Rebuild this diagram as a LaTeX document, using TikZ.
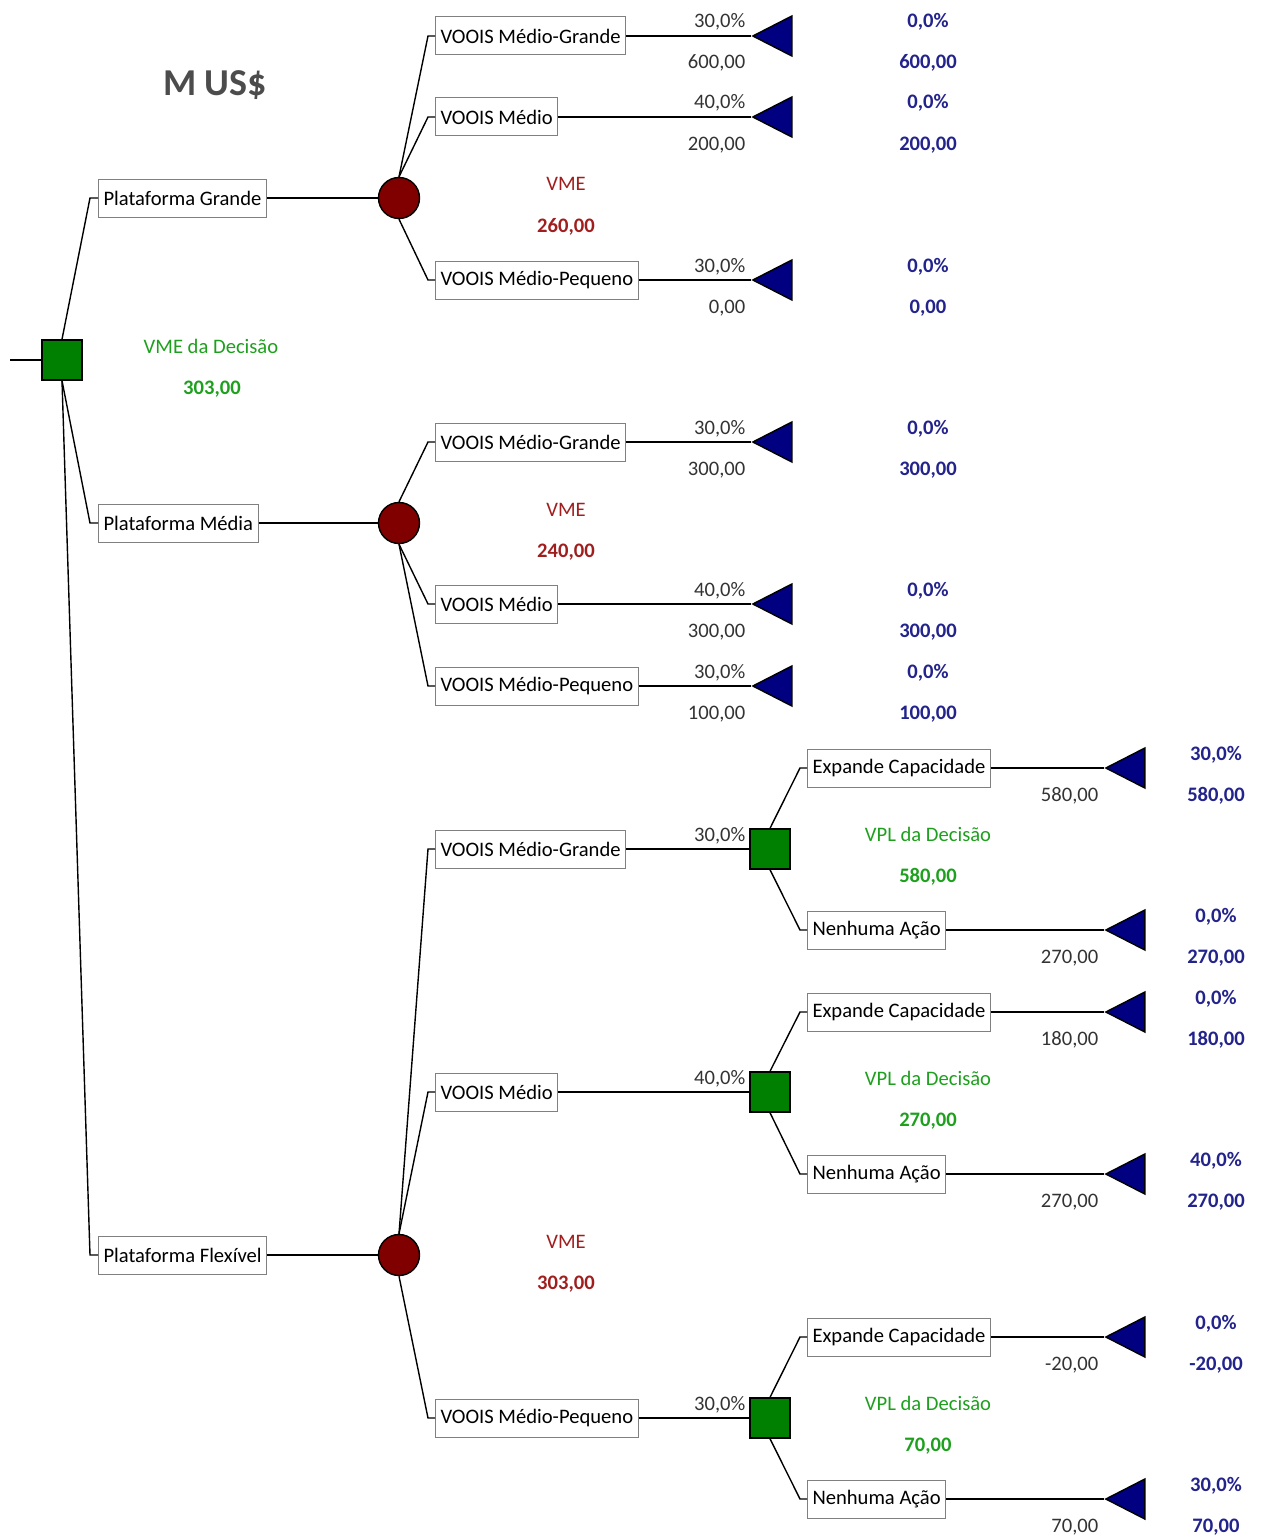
\documentclass[tikz,border=0pt]{standalone}
\usepackage{fontspec}
\setmainfont{Carlito}
\usepackage{tikz}
\usetikzlibrary{shapes.geometric}
\definecolor{decgreen}{RGB}{0,128,0}
\definecolor{chred}{RGB}{128,0,0}
\definecolor{endblue}{RGB}{0,0,128}
\definecolor{vmered}{RGB}{160,30,30}
\definecolor{vmegreen}{RGB}{30,160,30}
\definecolor{valblue}{RGB}{35,35,140}

\begin{document}
\begin{tikzpicture}[x=0.5pt,y=-0.5pt,line width=0.7pt,
  font=\fontsize{10.3}{12}\selectfont,
  decision/.style={draw=black,fill=decgreen,minimum size=20pt,inner sep=0pt},
  chance/.style={circle,draw=black,fill=chred,minimum size=20.5pt,inner sep=0pt},
  endtri/.style={isosceles triangle,shape border rotate=180,isosceles triangle stretches,
    minimum width=20pt,minimum height=19.5pt,inner sep=0pt,draw=black,fill=endblue,anchor=apex},
  branch/.style={draw=gray,line width=0.5pt,fill=white,minimum height=19pt,inner xsep=2.5pt,inner ysep=0pt,anchor=west},
  num/.style={anchor=base east,inner xsep=0pt,text=black!80},
  res/.style={anchor=base,text=valblue,font=\fontsize{10.3}{12}\selectfont\bfseries},
  vme/.style={anchor=base,text=vmered},
  vpl/.style={anchor=base,text=vmegreen}]
  \useasboundingbox (0,0) rectangle (1261,1536);

  % root decision
  \coordinate (in0) at (10,360);
  \node[decision] (dec0) at (62,360) {};
  \draw (in0) -- (dec0.west);
  \node[vpl] (vme0) at (211,353) {VME da Decisão};
  \node[vpl,font=\fontsize{10.3}{12}\selectfont\bfseries] (vme0v) at (212,394) {303,00};
  \node[text=black!70,font=\fontsize{19}{22}\selectfont\bfseries] (unit) at (215,85) {M US\$};

  \node[branch] (pg) at (98,198) {Plataforma Grande};
  \node[branch] (pm) at (98,523) {Plataforma Média};
  \node[branch] (pf) at (98,1255) {Plataforma Flexível};
  \draw (dec0.north) -- ([xshift=-4pt]pg.west) -- (pg.west);
  \draw (dec0.south) -- ([xshift=-4pt]pm.west) -- (pm.west);
  \draw (dec0.south) -- ([xshift=-4pt]pf.west) -- (pf.west);

  % chance nodes
  \node[chance] (ch1) at (399,198) {};
  \node[chance] (ch2) at (399,523) {};
  \node[chance] (ch3) at (399,1255) {};
  \draw (pg.east) -- (ch1.west);
  \draw (pm.east) -- (ch2.west);
  \draw (pf.east) -- (ch3.west);
  \node[vme] (vme1) at (566,191) {VME};
  \node[vme,font=\fontsize{10.3}{12}\selectfont\bfseries] (vme1v) at (566,232) {260,00};
  \node[vme] (vme2) at (566,516) {VME};
  \node[vme,font=\fontsize{10.3}{12}\selectfont\bfseries] (vme2v) at (566,557) {240,00};
  \node[vme] (vme3) at (566,1248) {VME};
  \node[vme,font=\fontsize{10.3}{12}\selectfont\bfseries] (vme3v) at (566,1289) {303,00};

  % Plataforma Grande
  \node[branch] (g1) at (435,36) {VOOIS Médio-Grande};
  \node[branch] (m1) at (435,117) {VOOIS Médio};
  \node[branch] (p1) at (435,280) {VOOIS Médio-Pequeno};
  \draw (ch1.north) -- ([xshift=-3.5pt]g1.west) -- (g1.west);
  \draw (ch1.north) -- ([xshift=-3.5pt]m1.west) -- (m1.west);
  \draw (ch1.south) -- ([xshift=-3.5pt]p1.west) -- (p1.west);
  \node[endtri] (tg1) at (751,36) {};
  \node[endtri] (tm1) at (751,117) {};
  \node[endtri] (tp1) at (751,280) {};
  \draw (g1.east) -- (tg1.apex);
  \draw (m1.east) -- (tm1.apex);
  \draw (p1.east) -- (tp1.apex);
  \node[num] (g1p) at (746,28) {30,0\%};  \node[num] (g1v) at (746,69) {600,00};
  \node[res] (g1r) at (928,28) {0,0\%};   \node[res] (g1s) at (928,69) {600,00};
  \node[num] (m1p) at (746,109) {40,0\%}; \node[num] (m1v) at (746,150) {200,00};
  \node[res] (m1r) at (928,109) {0,0\%};  \node[res] (m1s) at (928,150) {200,00};
  \node[num] (p1p) at (746,272) {30,0\%}; \node[num] (p1v) at (746,313) {0,00};
  \node[res] (p1r) at (928,272) {0,0\%};  \node[res] (p1s) at (928,313) {0,00};

  % Plataforma Media
  \node[branch] (g2) at (435,442) {VOOIS Médio-Grande};
  \node[branch] (m2) at (435,604) {VOOIS Médio};
  \node[branch] (p2) at (435,686) {VOOIS Médio-Pequeno};
  \draw (ch2.north) -- ([xshift=-3.5pt]g2.west) -- (g2.west);
  \draw (ch2.south) -- ([xshift=-3.5pt]m2.west) -- (m2.west);
  \draw (ch2.south) -- ([xshift=-3.5pt]p2.west) -- (p2.west);
  \node[endtri] (tg2) at (751,442) {};
  \node[endtri] (tm2) at (751,604) {};
  \node[endtri] (tp2) at (751,686) {};
  \draw (g2.east) -- (tg2.apex);
  \draw (m2.east) -- (tm2.apex);
  \draw (p2.east) -- (tp2.apex);
  \node[num] (g2p) at (746,434) {30,0\%}; \node[num] (g2v) at (746,475) {300,00};
  \node[res] (g2r) at (928,434) {0,0\%};  \node[res] (g2s) at (928,475) {300,00};
  \node[num] (m2p) at (746,596) {40,0\%}; \node[num] (m2v) at (746,637) {300,00};
  \node[res] (m2r) at (928,596) {0,0\%};  \node[res] (m2s) at (928,637) {300,00};
  \node[num] (p2p) at (746,678) {30,0\%}; \node[num] (p2v) at (746,719) {100,00};
  \node[res] (p2r) at (928,678) {0,0\%};  \node[res] (p2s) at (928,719) {100,00};

  % Plataforma Flexivel
  \node[branch] (g3) at (435,849) {VOOIS Médio-Grande};
  \node[branch] (m3) at (435,1092) {VOOIS Médio};
  \node[branch] (p3) at (435,1418) {VOOIS Médio-Pequeno};
  \draw (ch3.north) -- ([xshift=-3.5pt]g3.west) -- (g3.west);
  \draw (ch3.north) -- ([xshift=-3.5pt]m3.west) -- (m3.west);
  \draw (ch3.south) -- ([xshift=-3.5pt]p3.west) -- (p3.west);
  \node[decision] (dec1) at (770,849) {};
  \node[decision] (dec2) at (770,1092) {};
  \node[decision] (dec3) at (770,1418) {};
  \draw (g3.east) -- (dec1.west);
  \draw (m3.east) -- (dec2.west);
  \draw (p3.east) -- (dec3.west);
  \node[num] (g3p) at (746,841) {30,0\%};
  \node[num] (m3p) at (746,1084) {40,0\%};
  \node[num] (p3p) at (746,1410) {30,0\%};
  \node[vpl] (vpl1) at (928,841) {VPL da Decisão};
  \node[vpl,font=\fontsize{10.3}{12}\selectfont\bfseries] (vpl1v) at (928,882) {580,00};
  \node[vpl] (vpl2) at (928,1085) {VPL da Decisão};
  \node[vpl,font=\fontsize{10.3}{12}\selectfont\bfseries] (vpl2v) at (928,1126) {270,00};
  \node[vpl] (vpl3) at (928,1410) {VPL da Decisão};
  \node[vpl,font=\fontsize{10.3}{12}\selectfont\bfseries] (vpl3v) at (928,1451) {70,00};

  % second decisions
  \node[branch] (e1) at (807,768) {Expande Capacidade};
  \node[branch] (n1) at (807,930) {Nenhuma Ação};
  \node[branch] (e2) at (807,1012) {Expande Capacidade};
  \node[branch] (n2) at (807,1174) {Nenhuma Ação};
  \node[branch] (e3) at (807,1337) {Expande Capacidade};
  \node[branch] (n3) at (807,1499) {Nenhuma Ação};
  \draw (dec1.north) -- ([xshift=-3.5pt]e1.west) -- (e1.west);
  \draw (dec1.south) -- ([xshift=-3.5pt]n1.west) -- (n1.west);
  \draw (dec2.north) -- ([xshift=-3.5pt]e2.west) -- (e2.west);
  \draw (dec2.south) -- ([xshift=-3.5pt]n2.west) -- (n2.west);
  \draw (dec3.north) -- ([xshift=-3.5pt]e3.west) -- (e3.west);
  \draw (dec3.south) -- ([xshift=-3.5pt]n3.west) -- (n3.west);
  \node[endtri] (te1) at (1104,768) {};
  \node[endtri] (tn1) at (1104,930) {};
  \node[endtri] (te2) at (1104,1012) {};
  \node[endtri] (tn2) at (1104,1174) {};
  \node[endtri] (te3) at (1104,1337) {};
  \node[endtri] (tn3) at (1104,1499) {};
  \draw (e1.east) -- (te1.apex);
  \draw (n1.east) -- (tn1.apex);
  \draw (e2.east) -- (te2.apex);
  \draw (n2.east) -- (tn2.apex);
  \draw (e3.east) -- (te3.apex);
  \draw (n3.east) -- (tn3.apex);
  \node[num] (e1v) at (1099,801) {580,00};
  \node[res] (e1r) at (1216,760) {30,0\%}; \node[res] (e1s) at (1216,801) {580,00};
  \node[num] (n1v) at (1099,963) {270,00};
  \node[res] (n1r) at (1216,922) {0,0\%};  \node[res] (n1s) at (1216,963) {270,00};
  \node[num] (e2v) at (1099,1045) {180,00};
  \node[res] (e2r) at (1216,1004) {0,0\%}; \node[res] (e2s) at (1216,1045) {180,00};
  \node[num] (n2v) at (1099,1207) {270,00};
  \node[res] (n2r) at (1216,1166) {40,0\%}; \node[res] (n2s) at (1216,1207) {270,00};
  \node[num] (e3v) at (1099,1370) {-20,00};
  \node[res] (e3r) at (1216,1329) {0,0\%}; \node[res] (e3s) at (1216,1370) {-20,00};
  \node[num] (n3v) at (1099,1532) {70,00};
  \node[res] (n3r) at (1216,1491) {30,0\%}; \node[res] (n3s) at (1216,1532) {70,00};
\end{tikzpicture}
\end{document}
